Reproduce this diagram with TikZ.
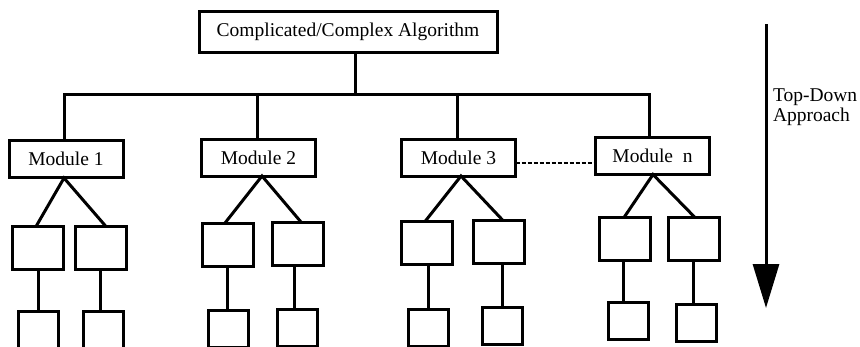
\documentclass[tikz,border=0pt]{standalone}
\usepackage{fontspec}
\setmainfont{Liberation Serif}
\usetikzlibrary{arrows.meta,calc}
\begin{document}
\begin{tikzpicture}[x=1pt,y=1pt,
  every node/.style={inner sep=0pt, outer sep=0pt},
  lw/.style={line width=3pt},
  txtbox/.style={draw, lw, font=\fontsize{19.5}{20}\selectfont},
  modbox/.style={txtbox, minimum width=114pt, minimum height=37pt},
  kid/.style={draw, lw, minimum width=51pt, minimum height=43pt},
  grand/.style={draw, lw, minimum width=40pt, minimum height=37pt},
  conn/.style={lw}]
\useasboundingbox (0,0) rectangle (860,-346);
% top
\node[txtbox, minimum width=298pt, minimum height=41pt] (top) at (348,-32) {Complicated/Complex Algorithm};
\coordinate (j) at (355,-94);
% modules
\node[modbox] (m1) at (66,-159) {Module 1};
\node[modbox] (m2) at (258.5,-157.5) {Module 2};
\node[modbox] (m3) at (458.5,-157.5) {Module 3};
\node[modbox] (mn) at (652.5,-156) {Module~ n};
% tree connectors
\draw[conn] (top.south -| j) -- (j);
\draw[conn] (m1.north -| 64,0) -- (64,-94) -- (649,-94) -- (mn.north -| 649,0);
\draw[conn] (m2.north -| 257,0) -- (257,-94);
\draw[conn] (m3.north -| 457,0) -- (457,-94);
\draw[conn, dashed, dash pattern=on 4pt off 2pt, line width=1.8pt] (m3.east |- 0,-163) -- (mn.west |- 0,-163);
% children
\node[kid] (c1a) at (37.5,-248) {};
\node[kid] (c1b) at (101,-248) {};
\node[kid] (c2a) at (228,-244.5) {};
\node[kid] (c2b) at (297.5,-243.5) {};
\node[kid] (c3a) at (427,-243) {};
\node[kid] (c3b) at (498.5,-242) {};
\node[kid] (cna) at (624.5,-239) {};
\node[kid] (cnb) at (694,-239) {};
% grandchildren
\node[grand] (g1a) at (38.5,-330) {};
\node[grand] (g1b) at (103,-330) {};
\node[grand] (g2a) at (228.5,-329) {};
\node[grand] (g2b) at (297,-328) {};
\node[grand] (g3a) at (428.5,-328) {};
\node[grand] (g3b) at (502,-326) {};
\node[grand] (gna) at (628,-320.5) {};
\node[grand] (gnb) at (696,-323) {};
% module to children
\coordinate (a1) at (64,-178);
\coordinate (a2) at (262,-176);
\coordinate (a3) at (461,-176);
\coordinate (an) at (653,-174.5);
\draw[conn] (c1a.north -| 36,0) -- (a1) -- (c1b.north -| 106,0);
\draw[conn] (c2a.north -| 225,0) -- (a2) -- (c2b.north -| 301,0);
\draw[conn] (c3a.north -| 425,0) -- (a3) -- (c3b.north -| 503,0);
\draw[conn] (cna.north -| 624,0) -- (an) -- (cnb.north -| 695,0);
% children to grandchildren
\draw[conn] (c1a.south -| 38,0) -- (g1a.north -| 38,0);
\draw[conn] (c1b.south -| 100,0) -- (g1b.north -| 100,0);
\draw[conn] (c2a.south -| 227,0) -- (g2a.north -| 227,0);
\draw[conn] (c2b.south -| 294,0) -- (g2b.north -| 294,0);
\draw[conn] (c3a.south -| 428,0) -- (g3a.north -| 428,0);
\draw[conn] (c3b.south -| 502,0) -- (g3b.north -| 502,0);
\draw[conn] (cna.south -| 623,0) -- (gna.north -| 623,0);
\draw[conn] (cnb.south -| 693,0) -- (gnb.north -| 693,0);
% arrow
\coordinate (arrS) at (766,-24);
\coordinate (arrE) at (766,-308);
\draw[conn, -{Triangle[length=44pt,width=26pt]}] (arrS) -- (arrE);
\node[anchor=north west, align=left, font=\fontsize{19.5}{20}\selectfont] (lbl) at (773,-89) {Top-Down\\Approach};
\end{tikzpicture}
\end{document}
